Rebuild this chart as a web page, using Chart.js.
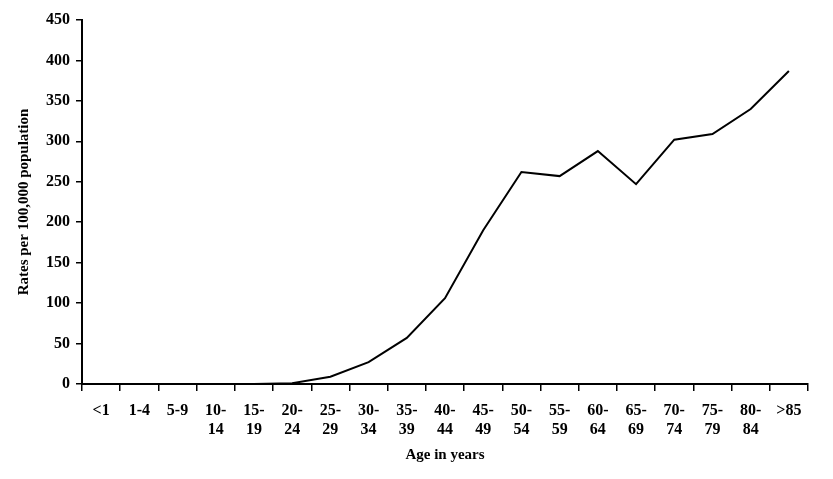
<!DOCTYPE html>
<html>
<head>
<meta charset="utf-8">
<script src="https://cdn.jsdelivr.net/npm/chart.js@4.4.1/dist/chart.umd.min.js"></script>
<style>
  html, body { margin: 0; padding: 0; background: #fff; }
  #wrap { width: 833px; height: 479px; position: relative; }
</style>
</head>
<body>
<div id="wrap"><canvas id="myChart"></canvas></div>
<script>
// Altersgruppen und Raten pro 100.000
const ageGroups = [['<1'], ['1-4'], ['5-9'], ['10-', '14'], ['15-', '19'], ['20-', '24'], ['25-', '29'],
    ['30-', '34'], ['35-', '39'], ['40-', '44'], ['45-', '49'], ['50-', '54'], ['55-', '59'],
    ['60-', '64'], ['65-', '69'], ['70-', '74'], ['75-', '79'], ['80-', '84'], ['>85']];
const rates = [0, 0, 0, 0, 0, 1, 9, 27, 57, 106, 190, 262, 257, 288, 247, 302, 309, 340, 387];
const yTicks = [0, 50, 100, 150, 200, 250, 300, 350, 400, 450];

const serif = 'Liberation Serif, Times New Roman, serif';

const ctx = document.getElementById('myChart').getContext('2d');
const myChart = new Chart(ctx, {
    type: 'line',
    data: {
        labels: ageGroups,
        datasets: [{
            label: 'Rates',
            data: rates,
            borderColor: '#000',
            borderWidth: 2,
            pointRadius: 0,
            tension: 0,
            fill: false
        }]
    },
    options: {
        responsive: true,
        maintainAspectRatio: false,
        animation: false,
        layout: { padding: { top: 20, right: 25, left: 0, bottom: 0 } },
        plugins: { legend: { display: false }, tooltip: { enabled: false } },
        scales: {
            x: {
                offset: true,
                grid: { offset: true, drawOnChartArea: false, drawTicks: true, tickLength: 7, color: '#000', lineWidth: 1.5 },
                border: { color: '#000', width: 2 },
                ticks: {
                    autoSkip: false, maxRotation: 0, minRotation: 0, padding: 10,
                    color: '#000', font: { family: serif, size: 16, weight: 'bold', lineHeight: 1.22 }
                },
                title: {
                    display: true, text: 'Age in years', color: '#000',
                    font: { family: serif, size: 15, weight: 'bold' },
                    padding: { top: 4, bottom: 15 }
                },
                afterFit: scale => { scale.height = 95; }
            },
            y: {
                min: 0, max: 450,
                afterBuildTicks: scale => { scale.ticks = yTicks.map(v => ({ value: v })); },
                grid: { drawOnChartArea: false, drawTicks: true, tickLength: 6, color: '#000', lineWidth: 1.5 },
                border: { color: '#000', width: 2 },
                ticks: {
                    padding: 6, color: '#000',
                    font: { family: serif, size: 16, weight: 'bold' }
                },
                title: {
                    display: true, text: 'Rates per 100,000 population', color: '#000',
                    font: { family: serif, size: 15, weight: 'bold' },
                    padding: { top: 15, bottom: 4 }
                },
                afterFit: scale => { scale.width = 82; }
            }
        }
    }
});
</script>
</body>
</html>
